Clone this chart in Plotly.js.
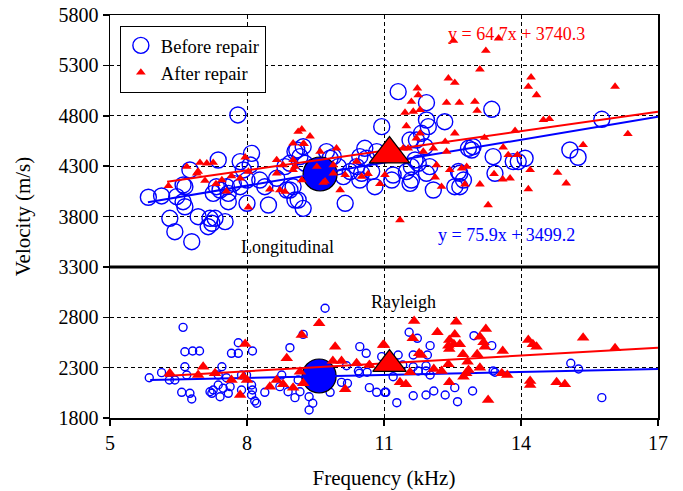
<!DOCTYPE html>
<html>
<head>
<meta charset="utf-8">
<script src="https://cdn.plot.ly/plotly-3.0.1.min.js"></script>
<style>html,body{margin:0;padding:0;background:#fff;}#chart{width:683px;height:491px;}</style>
</head>
<body>
<div id="chart"></div>
<script>
// ---------- Longitudinal, before repair ----------
const longBeforeX = [7.80,5.84,6.13,6.46,6.64,6.60,6.64,6.31,6.42,6.79,6.93,7.19,7.23,7.52,7.30,7.15,7.37,6.75,6.60,7.33,7.41,7.26,7.55,7.70,7.59,7.85,8.10,8.07,7.92,8.00,7.85,8.00,7.59,8.47,8.28,8.39,8.65,8.83,8.94,8.87,9.01,9.05,9.09,11.31,11.93,10.95,12.33,11.93,11.97,11.82,11.71,11.57,11.90,9.23,9.05,9.74,9.82,10.58,10.84,10.47,10.62,10.40,10.51,10.26,10.00,10.11,10.47,10.80,11.20,11.57,11.17,11.68,11.75,12.00,11.93,11.49,11.60,12.55,12.74,12.85,10.15,9.12,9.23,8.94,10.73,9.27,13.36,12.95,12.92,13.39,13.43,13.83,13.94,14.09,15.77,15.07,15.25,12.66,12.66,12.08,11.60,12.63,9.16,9.45,9.89];
const longBeforeY = [4808,3991,4004,3997,4096,3947,3897,3782,3649,3550,3798,3782,3733,3749,3782,3699,4361,4262,4113,4096,4063,4030,4096,4129,4030,4345,4427,4311,4262,4162,4096,3931,3947,3914,4162,4096,4179,4295,4328,4063,4096,3964,4460,5039,4930,4692,4741,4758,4692,4626,4559,4559,4493,4493,4444,4444,4378,4477,4444,4394,4378,4295,4229,4246,4295,4196,4162,4096,4212,4129,4162,4361,4328,4295,4229,4246,4162,4096,4162,4477,3931,3964,3881,4063,4246,4328,4864,4493,4460,4394,4229,4345,4345,4378,4765,4460,4388,4096,4229,4063,4295,4246,4394,4295,4394];

// ---------- Longitudinal, after repair ----------
const longAfterX = [6.28,6.68,6.93,6.97,7.12,7.26,7.08,7.32,7.45,7.55,7.66,7.85,7.96,8.03,8.03,8.50,8.65,8.79,8.72,8.83,9.01,9.01,9.05,9.12,9.20,9.38,9.23,9.60,9.96,9.53,9.89,9.67,10.04,10.15,10.40,10.51,10.65,10.91,11.02,11.35,11.42,11.49,11.46,11.64,11.79,11.60,11.75,11.73,11.79,11.71,11.86,11.53,12.08,12.15,12.12,12.26,12.41,12.55,12.37,12.65,12.55,12.34,12.37,12.44,12.52,13.51,13.23,13.10,12.99,13.04,14.22,14.16,14.34,14.49,14.62,16.06,16.34,13.87,13.20,13.61,13.72,13.92,15.36,14.20,14.80,14.99,14.16,13.76,13.60,13.41,13.10,12.77,12.81,12.70,13.28,9.25,8.65,9.89,9.71,9.20,6.90,9.01];
const longAfterY = [4103,4295,4246,4334,4328,4334,4156,4123,4162,4050,4202,4179,4388,4246,3891,4070,4361,4311,4063,4046,4527,4361,4295,4642,4666,4596,4520,4444,4477,4295,4311,4136,4063,4212,4345,4196,4222,4123,4212,3765,4477,4698,4832,4842,4859,4940,5006,5072,4626,4576,4444,4477,4477,4311,4189,4096,5172,5128,4930,4930,4626,4543,4444,4262,5545,5569,5446,5261,4940,4850,5182,5089,5006,4758,4768,5090,4619,4652,4582,4487,4411,4411,4510,4262,4235,4129,4073,4179,4169,4222,4119,4119,4295,4278,3914,4520,4229,4229,4149,4162,4229,4262];

// ---------- Rayleigh, before repair ----------
const rayBeforeX = [9.71,6.60,9.23,7.81,8.94,6.64,6.81,6.96,7.66,7.81,8.12,10.47,10.61,6.64,7.45,6.13,5.86,6.30,6.42,6.68,7.55,7.37,7.48,7.63,7.26,7.19,6.57,6.75,6.79,7.41,7.59,7.88,7.99,8.10,8.12,8.10,8.17,8.21,8.39,8.76,8.72,8.90,9.05,9.16,9.12,9.36,9.44,9.36,9.82,10.07,10.20,10.46,10.63,10.68,10.84,11.02,10.18,10.95,10.44,7.37,7.23,7.88,11.55,11.73,12.01,12.97,13.36,11.31,11.64,11.95,11.64,11.92,11.41,11.75,11.92,12.01,11.20,13.39,13.43,15.09,15.26,15.77,11.04,11.28,11.64,11.92,12.09,12.34,12.55,12.61,12.94];
const rayBeforeY = [2889,2700,2630,2547,2498,2458,2465,2465,2442,2442,2465,2508,2442,2309,2309,2250,2200,2177,2177,2227,2200,2128,2095,2111,2078,2061,2055,2045,1989,2011,2045,2078,2227,2128,2078,2028,1969,1946,2055,2227,2111,2061,2002,2061,2177,2011,1946,1879,2055,2154,2144,2244,2254,2101,2055,2055,2319,2409,2267,2227,2045,2227,2651,2591,2518,2617,2518,2425,2425,2425,2309,2319,2326,2267,2267,2227,2210,2267,2254,2343,2286,2002,2055,1952,2021,2028,2068,2028,2101,1962,2068];

// ---------- Rayleigh, after repair ----------
const rayAfterX = [9.58,9.20,7.96,9.93,8.87,7.04,6.31,6.93,7.30,7.66,7.92,8.00,7.85,8.50,8.65,8.79,9.01,9.23,9.16,9.88,10.07,10.40,10.68,10.15,10.98,11.66,12.58,12.17,12.55,13.23,13.10,11.63,12.43,12.41,12.53,12.66,13.18,13.21,12.43,14.16,14.26,14.34,15.36,16.06,13.60,11.00,11.77,11.82,12.73,13.04,12.83,12.41,13.10,12.09,12.26,12.85,12.80,12.74,13.58,13.70,11.35,11.48,12.43,14.20,14.20,14.78,14.96,13.28,11.57];
const rayAfterY = [2740,2624,2534,2508,2392,2309,2244,2227,2244,2177,2210,2177,2028,2111,2177,2134,2101,2144,2260,2366,2366,2343,2326,2085,2525,2763,2756,2651,2630,2683,2607,2591,2574,2518,2531,2531,2551,2508,2485,2574,2531,2508,2597,2492,2465,2525,2442,2425,2432,2432,2359,2333,2299,2286,2267,2276,2244,2210,2244,2227,2154,2134,2154,2167,2128,2154,2134,1979,2254];

// ---------- Mean points (large markers) ----------
const meanBeforeLong = {x: [9.6], y: [4222]};
const meanAfterLong  = {x: [11.12], y: [4420]};
const meanBeforeRay  = {x: [9.58], y: [2217]};
const meanAfterRay   = {x: [11.12], y: [2335]};

// ---------- Linear fits (slope, intercept, x-span) ----------
const fitLongBefore = {slope: 75.9, intercept: 3499.2, x: [5.83, 17]};
const fitLongAfter  = {slope: 64.7, intercept: 3740.3, x: [6.25, 17]};
const fitRayBefore  = {slope: 9.8,  intercept: 2119,   x: [5.88, 17]};
const fitRayAfter   = {slope: 26.0, intercept: 2056,   x: [6.2, 17]};

// ---------- Axis ticks ----------
const xTicks = [5, 8, 11, 14, 17];
const yTicks = [1800, 2300, 2800, 3300, 3800, 4300, 4800, 5300, 5800];

const BLUE = '#0000ff', RED = '#ff0000';
const FONT = '"Liberation Serif", "Times New Roman", serif';

function fitTrace(f, color) {
  return {x: f.x, y: f.x.map(v => f.slope * v + f.intercept), mode: 'lines',
          line: {color: color, width: 2}, showlegend: false, hoverinfo: 'skip'};
}

const traces = [
  // Longitudinal
  {x: longBeforeX, y: longBeforeY, mode: 'markers', name: 'Before repair',
   marker: {symbol: 'circle-open', size: 16, color: BLUE, line: {width: 1.4, color: BLUE}}},
  {x: meanBeforeLong.x, y: meanBeforeLong.y, mode: 'markers', showlegend: false,
   marker: {symbol: 'circle', size: 34, color: BLUE, line: {width: 1.2, color: 'black'}}},
  fitTrace(fitLongBefore, BLUE),
  {x: longAfterX, y: longAfterY, mode: 'markers', name: 'After repair',
   marker: {symbol: 'triangle-up', size: 8.5, color: RED, line: {width: 0}}},
  fitTrace(fitLongAfter, RED),
  {x: meanAfterLong.x, y: meanAfterLong.y, mode: 'markers', showlegend: false,
   marker: {symbol: 'triangle-up', size: 35, color: RED, line: {width: 1.2, color: 'black'}}},
  // Rayleigh
  {x: rayBeforeX, y: rayBeforeY, mode: 'markers', showlegend: false,
   marker: {symbol: 'circle-open', size: 8, color: BLUE, line: {width: 1.4, color: BLUE}}},
  {x: meanBeforeRay.x, y: meanBeforeRay.y, mode: 'markers', showlegend: false,
   marker: {symbol: 'circle', size: 34, color: BLUE, line: {width: 1.2, color: 'black'}}},
  fitTrace(fitRayBefore, BLUE),
  {x: rayAfterX, y: rayAfterY, mode: 'markers', showlegend: false,
   marker: {symbol: 'triangle-up', size: 11, color: RED, line: {width: 0}}},
  fitTrace(fitRayAfter, RED),
  {x: meanAfterRay.x, y: meanAfterRay.y, mode: 'markers', showlegend: false,
   marker: {symbol: 'triangle-up', size: 29, color: RED, line: {width: 1.2, color: 'black'}}}
];

const axisCommon = {
  ticks: 'outside', ticklen: 6, tickwidth: 1.5, tickcolor: 'black',
  showline: true, mirror: true, linecolor: 'black', linewidth: 1.5,
  showgrid: true, gridcolor: 'black', gridwidth: 1, griddash: '4px,3px',
  zeroline: false, tickfont: {family: FONT, size: 20, color: 'black'}
};

const layout = {
  width: 683, height: 491,
  margin: {l: 110, r: 25, t: 15, b: 73},
  paper_bgcolor: 'white', plot_bgcolor: 'white',
  font: {family: FONT, color: 'black'},
  xaxis: Object.assign({}, axisCommon, {
    range: [5, 17], tickmode: 'array', tickvals: xTicks, ticktext: xTicks.map(String),
    title: {text: 'Frequency (kHz)', font: {family: FONT, size: 21, color: 'black'}, standoff: 18}
  }),
  yaxis: Object.assign({}, axisCommon, {
    range: [1800, 5800], tickmode: 'array', tickvals: yTicks, ticktext: yTicks.map(String),
    title: {text: 'Velocity (m/s)', font: {family: FONT, size: 21, color: 'black'}, standoff: 22}
  }),
  showlegend: true,
  legend: {x: 0.018, y: 0.973, xanchor: 'left', yanchor: 'top',
           bgcolor: 'white', bordercolor: 'black', borderwidth: 1,
           font: {family: FONT, size: 18.5, color: 'black'}},
  shapes: [{type: 'line', xref: 'paper', yref: 'y', x0: 0, x1: 1, y0: 3300, y1: 3300,
            line: {color: 'black', width: 3}}],
  annotations: [
    {x: 13.91, y: 5615, xref: 'x', yref: 'y', text: 'y = 64.7x + 3740.3', showarrow: false,
     font: {family: FONT, size: 18, color: RED}},
    {x: 13.69, y: 3616, xref: 'x', yref: 'y', text: 'y = 75.9x + 3499.2', showarrow: false,
     font: {family: FONT, size: 18, color: BLUE}},
    {x: 8.88, y: 3500, xref: 'x', yref: 'y', text: 'Longitudinal', showarrow: false,
     font: {family: FONT, size: 18, color: 'black'}},
    {x: 11.42, y: 2954, xref: 'x', yref: 'y', text: 'Rayleigh', showarrow: false,
     font: {family: FONT, size: 18, color: 'black'}}
  ]
};

Plotly.newPlot('chart', traces, layout, {displayModeBar: false, staticPlot: true});
</script>
</body>
</html>
